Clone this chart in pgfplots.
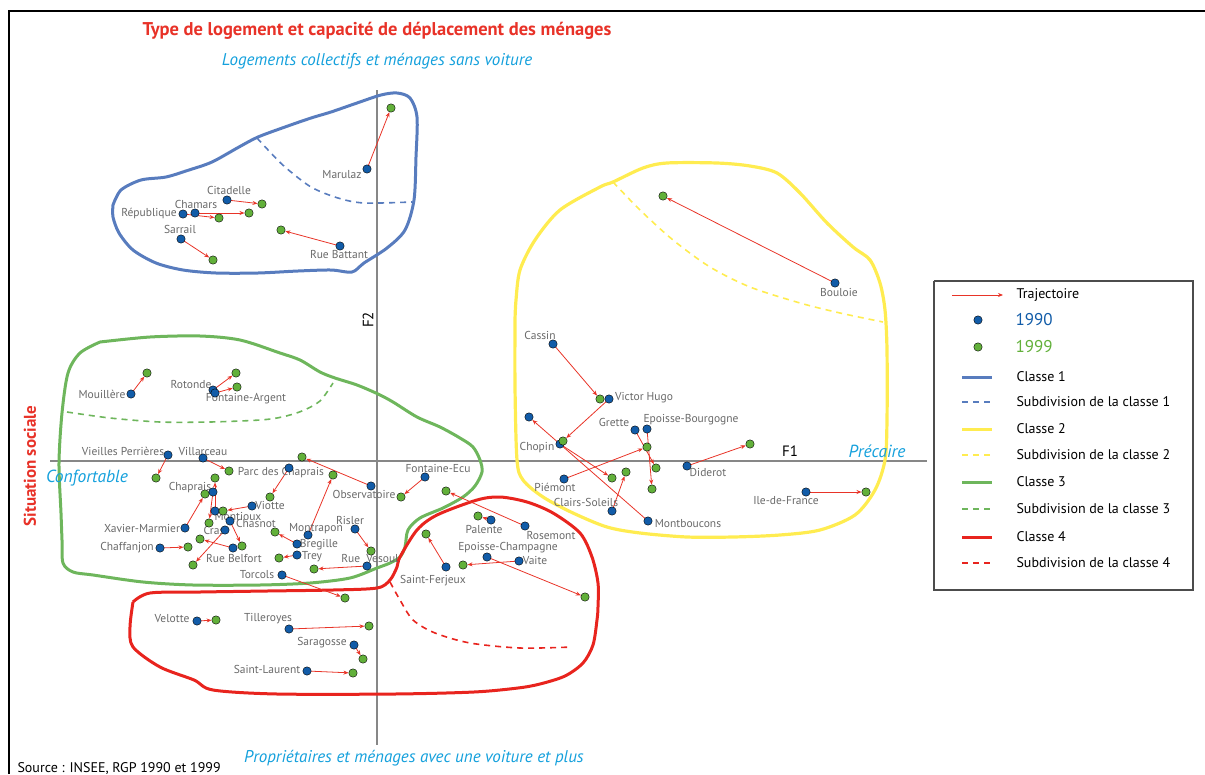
\documentclass[border=0pt]{standalone}
\usepackage{fontspec}
\setmainfont{PT Sans}
\usepackage{pgfplots}
\usepackage{pgfplotstable}
\pgfplotsset{compat=1.18}
\usetikzlibrary{arrows.meta}

\definecolor{dotblue}{RGB}{18,92,168}
\definecolor{dotgreen}{RGB}{98,176,58}
\definecolor{arrred}{RGB}{232,52,40}
\definecolor{cone}{RGB}{88,124,190}
\definecolor{ctwo}{RGB}{255,236,80}
\definecolor{cthree}{RGB}{110,182,92}
\definecolor{cfour}{RGB}{232,36,30}
\definecolor{cyantext}{RGB}{20,160,220}
\definecolor{titlered}{RGB}{232,50,40}
\definecolor{labgray}{RGB}{105,105,105}
\definecolor{axgray}{RGB}{135,135,135}

\pgfplotsset{
  traj/.style={arrred,line width=0.8pt,mark=none,-{Stealth[length=5pt,width=4pt]}},
  dot/.style={only marks,mark=*,mark size=4.2pt,mark options={draw=none,fill=#1}},
  dashline/.style={line width=1.6pt,dash pattern=on 6pt off 5pt,mark=none},
}
\tikzset{lab/.style={font=\fontsize{11.5}{13}\selectfont,text=labgray,inner sep=0pt}}

% trajectories in picture pixels (y downwards): 1990 point -> 1999 point
\pgfplotstableread{
x0 y0 x1 y1
367 169 391 108
227 200 262 204
195 213 249 213
183 214 219 218
181 239 213 260
340 246 281 230
131 394 147 373
213 390 236 373
215 393 237 387
168 455 156 478
203 458 229 471
289 468 270 497
371 486 302 457
308 535 333 475
213 492 209 523
215 511 215 478
252 506 223 511
230 521 242 546
225 530 193 565
233 548 200 539
185 528 205 494
160 548 188 547
297 544 275 532
297 555 279 558
367 566 314 569
355 529 371 551
282 575 345 598
425 477 401 497
525 526 446 491
491 520 478 516
446 567 426 534
487 557 585 597
519 561 463 565
197 621 216 620
289 629 369 626
354 645 363 659
307 671 353 673
835 283 663 196
553 344 600 399
609 399 563 441
560 444 612 478
564 479 647 447
612 511 626 472
635 430 656 468
647 429 652 489
687 466 750 444
806 492 866 492
}\traj

\begin{document}
\begin{tikzpicture}
\useasboundingbox (0,0) rectangle (1205pt,774pt);
\clip (0,0) rectangle (1205pt,774pt);
\begin{axis}[width=1205pt,height=774pt,scale only axis,hide axis,clip=false,
  xmin=0,xmax=1205,ymin=0,ymax=774,y dir=reverse]

% frame and factor axes
\addplot[black,line width=2pt,mark=none] coordinates {(9,774) (9,11) (1205,11)};
\addplot[axgray,line width=1.2pt,mark=none] coordinates {(50,461) (927,461)};
\addplot[axgray,line width=1.2pt,mark=none] coordinates {(377,90) (377,745)};

% classes
\addplot[cone,line width=3pt,smooth,mark=none] coordinates {
(113,205) (121,190) (141,180) (166,177) (189,170) (212,162) (239,147) (258,137)
(285,127) (311,118) (331,112) (357,103) (381,95) (397,93) (410,98) (417,117)
(416,157) (414,200) (405,230) (387,248) (364,263) (352,272) (331,270) (298,271)
(258,273) (216,273) (183,270) (156,263) (133,250) (119,233) (113,217) (113,205)};
\addplot[cone,dashline,smooth] coordinates {
(257,138) (270,152) (285,167) (311,187) (338,198) (364,203) (412,202)};

\addplot[ctwo,line width=3.2pt,smooth,mark=none] coordinates {
(515,320) (515,387) (517,460) (523,480) (543,497) (573,513) (607,527) (640,533)
(687,537) (733,537) (780,535) (820,530) (855,515) (875,490) (885,460) (887,420)
(887,350) (885,310) (880,283) (870,260) (853,247) (827,223) (800,193) (777,173)
(750,166) (717,163) (667,163) (643,168) (613,182) (600,187) (560,210) (535,240)
(520,270) (516,300) (515,320)};
\addplot[ctwo,dashline,smooth] coordinates {
(613,182) (640,210) (673,240) (710,267) (750,287) (800,303) (840,313) (883,322)};

\addplot[cthree,line width=3pt,smooth,mark=none] coordinates {
(100,342) (150,337) (200,336) (240,340) (280,353) (300,360) (320,372) (335,378)
(357,385) (378,394) (393,402) (417,417) (440,427) (460,438) (473,447) (480,460)
(482,472) (475,486) (463,497) (443,508) (420,518) (408,530) (405,547) (400,557)
(390,563) (377,568) (350,578) (310,583) (260,585) (193,585) (143,582) (93,575)
(73,572) (63,563) (62,540) (61,513) (59,463) (62,413) (68,373) (80,353) (100,342)};
\addplot[cthree,dashline,smooth] coordinates {
(67,412) (110,418) (160,422) (210,422) (260,420) (282,417) (302,411) (320,401) (333,383)};

\addplot[cfour,line width=3pt,smooth,mark=none] coordinates {
(133,602) (150,593) (200,592) (267,591) (333,590) (377,588) (390,580) (397,567)
(400,557) (417,530) (437,515) (477,500) (500,497) (527,502) (553,513) (580,533)
(592,557) (598,583) (598,607) (597,620) (593,645) (583,663) (565,676) (540,684)
(518,688) (474,692) (395,694) (277,694) (213,690) (194,680) (160,667) (133,647)
(130,627) (133,602)};
\addplot[cfour,dashline,smooth] coordinates {
(390,582) (400,600) (413,620) (435,633) (470,643) (520,648) (572,647)};

% trajectories
\addplot[traj,shorten >=4.5pt,
  quiver={u=\thisrow{x1}-\thisrow{x0},v=\thisrow{y1}-\thisrow{y0}}]
  table[x=x0,y=y0] {\traj};
\addplot[traj,shorten >=4.5pt] coordinates {(648,521) (529,417)};
\addplot[dot=dotblue] table[x=x0,y=y0] {\traj};
\addplot[dot=dotgreen] table[x=x1,y=y1] {\traj};
\addplot[dot=dotblue] coordinates {(648,521) (529,417)};

% place names
\node[lab] at (axis cs:342,175) {Marulaz};
\node[lab] at (axis cs:229,190) {Citadelle};
\node[lab] at (axis cs:196,204) {Chamars};
\node[lab] at (axis cs:149,214) {République};
\node[lab] at (axis cs:180,229) {Sarrail};
\node[lab] at (axis cs:339,254) {Rue Battant};
\node[lab] at (axis cs:102,394) {Mouillère};
\node[lab] at (axis cs:191,384) {Rotonde};
\node[lab] at (axis cs:246,399) {Fontaine-Argent};
\node[lab] at (axis cs:123,451) {Vieilles Perrières};
\node[lab] at (axis cs:203,451) {Villarceau};
\node[lab] at (axis cs:281,473) {Parc des Chaprais};
\node[lab] at (axis cs:364,494) {Observatoire};
\node[lab] at (axis cs:190,488) {Chaprais};
\node[lab] at (axis cs:270,505) {Viotte};
\node[lab] at (axis cs:238,516) {Montioux};
\node[lab] at (axis cs:256,523) {Chasnot};
\node[lab] at (axis cs:214,530) {Cras};
\node[lab] at (axis cs:142,528) {Xavier-Marmier};
\node[lab] at (axis cs:127,548) {Chaffanjon};
\node[lab] at (axis cs:234,558) {Rue Belfort};
\node[lab] at (axis cs:316,529) {Montrapon};
\node[lab] at (axis cs:319,545) {Bregille};
\node[lab] at (axis cs:312,557) {Trey};
\node[lab] at (axis cs:350,520) {Risler};
\node[lab] at (axis cs:370,558) {Rue\ \ Vesoul};
\node[lab] at (axis cs:257,575) {Torcols};
\node[lab] at (axis cs:438,468) {Fontaine-Ecu};
\node[lab] at (axis cs:551,535) {Rosemont};
\node[lab] at (axis cs:484,529) {Palente};
\node[lab] at (axis cs:433,581) {Saint-Ferjeux};
\node[lab] at (axis cs:508,548) {Epoisse-Champagne};
\node[lab] at (axis cs:535,560) {Vaite};
\node[lab] at (axis cs:172,619) {Velotte};
\node[lab] at (axis cs:268,619) {Tilleroyes};
\node[lab] at (axis cs:322,643) {Saragosse};
\node[lab] at (axis cs:267,669) {Saint-Laurent};
\node[lab] at (axis cs:839,292) {Bouloie};
\node[lab] at (axis cs:540,335) {Cassin};
\node[lab] at (axis cs:644,398) {Victor Hugo};
\node[lab] at (axis cs:537,448) {Chopin};
\node[lab] at (axis cs:555,487) {Piémont};
\node[lab] at (axis cs:586,502) {Clairs-Soleils};
\node[lab] at (axis cs:614,422) {Grette};
\node[lab] at (axis cs:691,420) {Epoisse-Bourgogne};
\node[lab] at (axis cs:708,472) {Diderot};
\node[lab] at (axis cs:688,524) {Montboucons};
\node[lab] at (axis cs:786,501) {Ile-de-France};

% titles and axis names
\node[text=titlered,font=\bfseries\fontsize{18.5}{21}\selectfont] at (axis cs:377,31) {Type de logement et capacité de déplacement des ménages};
\node[text=cyantext,font=\itshape\fontsize{17}{20}\selectfont] at (axis cs:377,61) {Logements collectifs et ménages sans voiture};
\node[text=cyantext,font=\itshape\fontsize{17}{20}\selectfont] at (axis cs:414,758) {Propriétaires et ménages avec une voiture et plus};
\node[text=cyantext,font=\itshape\fontsize{17.5}{20}\selectfont] at (axis cs:87,478) {Confortable};
\node[text=cyantext,font=\itshape\fontsize{17.5}{20}\selectfont] at (axis cs:877,451) {Précaire};
\node[text=titlered,font=\bfseries\fontsize{17}{20}\selectfont,rotate=90] at (axis cs:30,466) {Situation sociale};
\node[font=\fontsize{15}{17}\selectfont,rotate=90] at (axis cs:368,320) {F2};
\node[font=\fontsize{15}{17}\selectfont] at (axis cs:790,451) {F1};
\node[font=\fontsize{14}{16}\selectfont,anchor=west] at (axis cs:14,769) {Source : INSEE, RGP 1990 et 1999};

% legend
\addplot[draw=black!70,line width=1.3pt,mark=none] coordinates {(934,281) (1193,281) (1193,590) (934,590) (934,281)};
\addplot[traj] coordinates {(952,295) (1003,295)};
\addplot[dot=dotblue] coordinates {(978,320)};
\addplot[dot=dotgreen] coordinates {(978,347)};
\addplot[cone,line width=3pt,mark=none] coordinates {(962,377) (992,377)};
\addplot[cone,dashline] coordinates {(962,402) (992,402)};
\addplot[ctwo,line width=3pt,mark=none] coordinates {(962,429) (992,429)};
\addplot[ctwo,dashline] coordinates {(962,455) (992,455)};
\addplot[cthree,line width=3pt,mark=none] coordinates {(962,482) (992,482)};
\addplot[cthree,dashline] coordinates {(962,509) (992,509)};
\addplot[cfour,line width=3pt,mark=none] coordinates {(962,537) (992,537)};
\addplot[cfour,dashline] coordinates {(962,563) (992,563)};
\begin{scope}[every node/.style={anchor=west,font=\fontsize{14}{16}\selectfont}]
\node at (axis cs:1013,295) {Trajectoire};
\node[text=dotblue,font=\fontsize{17}{19}\selectfont] at (axis cs:1012,320) {1990};
\node[text=dotgreen,font=\fontsize{17}{19}\selectfont] at (axis cs:1012,347) {1999};
\node at (axis cs:1013,377) {Classe 1};
\node at (axis cs:1013,402) {Subdivision de la classe 1};
\node at (axis cs:1013,429) {Classe 2};
\node at (axis cs:1013,455) {Subdivision de la classe 2};
\node at (axis cs:1013,482) {Classe 3};
\node at (axis cs:1013,509) {Subdivision de la classe 3};
\node at (axis cs:1013,537) {Classe 4};
\node at (axis cs:1013,563) {Subdivision de la classe 4};
\end{scope}
\end{axis}
\end{tikzpicture}
\end{document}
